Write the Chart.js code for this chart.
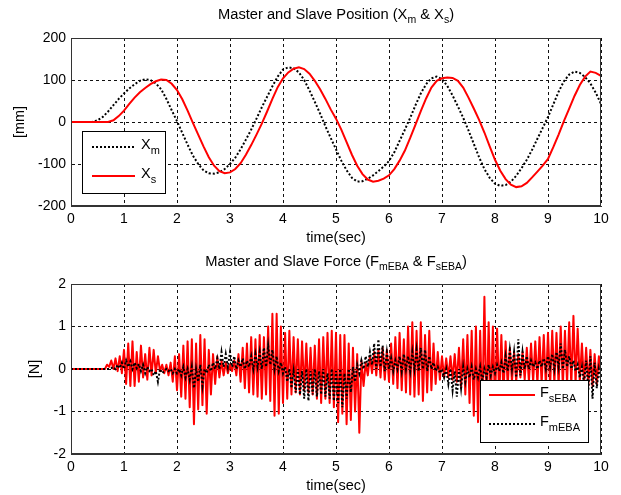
<!DOCTYPE html>
<html><head><meta charset="utf-8">
<script src="https://cdn.jsdelivr.net/npm/chart.js@4.4.1/dist/chart.umd.min.js"></script>
<style>
html,body{margin:0;padding:0;background:#fff;}
#wrap{position:relative;width:621px;height:495px;background:#fff;}
canvas{position:absolute;left:0;}
#c1{top:0;} #c2{top:250px;}
</style></head><body>
<div id="wrap"><canvas id="c1" width="621" height="250"></canvas><canvas id="c2" width="621" height="245"></canvas></div>
<script>
// ---------- data ----------
const timeTicks = [0,1,2,3,4,5,6,7,8,9,10];
const posTicks = [-200,-100,0,100,200];
const forceTicks = [-2,-1,0,1,2];
const POS_DT = 0.1;     // sampling step of position curves (s)
const FORCE_DT = 0.04;  // sampling step of force curves (s)

// Master position Xm [mm], t = 0 .. 10 s step 0.1
const xm = [0,0,0,0,0,4,12,25,40,55,
 68,80,90,98,102,100,92,78,55,28,
 2,-26,-54,-80,-100,-115,-122,-123,-120,-112,
 -100,-85,-65,-42,-18,8,35,60,85,108,
 125,130,128,118,100,75,48,20,-10,-38,
 -65,-92,-115,-133,-142,-141,-135,-127,-117,-106,
 -93,-72,-45,-18,10,40,68,90,104,108,
 102,86,63,37,10,-20,-52,-84,-112,-133,
 -147,-152,-150,-142,-128,-110,-90,-66,-40,-14,
 12,42,72,97,113,120,117,107,92,70,
 43];
// Slave position Xs [mm]
const xs = [0,0,0,0,0,0,0,0,4,14,
 27,43,58,71,81,90,97,101,100,91,
 76,54,27,-2,-30,-58,-84,-104,-117,-122,
 -120,-112,-98,-78,-55,-30,-4,25,55,83,
 104,118,127,130,126,115,98,78,55,30,
 8,-18,-48,-78,-104,-124,-137,-142,-140,-135,
 -127,-112,-92,-68,-38,-6,26,56,82,98,
 104,106,105,98,82,58,32,5,-25,-58,
 -90,-116,-136,-149,-155,-153,-145,-132,-118,-104,
 -88,-60,-30,2,32,62,88,108,120,117,
 110];

// Slave force FsEBA [N], t = 0 .. 10 s step 0.04
const fs = [
 0,0,0,0,0,0,0,0,0,0,0,0,0,0,0,0,0,0.1,0.05,0.2,0.0,0.25,-0.05,0.3,-0.1,
 0.45,-0.35,0.6,-0.4,0.65,-0.4,0.4,-0.3,0.55,-0.2,0.35,-0.25,0.5,-0.15,0.45,-0.1,0.3,-0.05,0.1,-0.1,0.1,-0.15,0.15,-0.3,0.3,
 -0.5,0.35,-0.65,0.55,-0.7,0.65,-0.9,0.7,-1.3,0.6,-0.95,0.8,-0.85,0.7,-1.05,0.45,-0.6,0.35,-0.35,0.3,-0.2,0.2,-0.15,0.15,-0.1,
 0.1,-0.05,0.2,-0.15,0.35,-0.3,0.5,-0.45,0.6,-0.55,0.75,-0.6,0.7,-0.65,0.8,-0.7,0.75,-0.6,1.0,-0.75,1.3,-1.1,1.3,-1.05,1.0,
 -0.8,0.85,-0.7,0.9,-0.6,0.75,-0.55,0.7,-0.6,0.65,-0.5,0.6,-0.55,0.5,-0.6,0.55,-0.7,0.7,-0.8,0.75,-0.7,0.85,-0.8,0.9,-0.9,
 0.85,-1.25,0.8,-1.05,0.8,-1.3,0.6,-1.2,0.5,-1.0,0.35,-1.5,0.2,-0.4,0.15,-0.15,0.3,-0.1,0.4,-0.15,0.45,-0.2,0.5,-0.25,0.45,
 -0.3,0.6,-0.35,0.75,-0.45,0.85,-0.5,0.7,-0.55,1.0,-0.6,1.1,-0.65,0.9,-0.6,1.1,-0.75,0.8,-0.55,0.9,-0.5,0.6,-0.35,0.4,-0.25,
 0.3,-0.2,0.25,-0.2,0.3,-0.25,0.35,-0.3,0.5,-0.45,0.7,-0.6,0.8,-0.8,0.9,-1.1,1.0,-1.25,0.9,-1.1,1.7,-1.2,1.1,-0.9,1.0,
 -0.8,0.95,-0.7,0.8,-0.6,0.65,-0.4,0.5,-0.3,0.4,-0.3,0.35,-0.2,0.4,-0.25,0.5,-0.3,0.6,-0.3,0.65,-0.35,0.75,-0.35,0.8,-0.4,
 0.85,-0.4,0.9,-0.35,0.85,-0.4,1.0,-0.4,0.9,-0.35,1.1,-0.4,1.25,-0.35,0.95,-0.3,0.6,-0.35,0.5,-0.4,0.45,-0.4,0.35,-0.35,0.3,
 -0.1];
// Master force FmEBA [N]
const fm = [
 0,0,0,0,0,0,0,0,0,0,0,0,0,0,0,0,0,0,0,0.02,0.05,0.0,0.1,0.02,0.15,
 0.0,0.2,0.05,0.18,0.0,0.15,0.02,0.12,-0.05,0.1,-0.1,0.05,-0.05,0.0,-0.15,-0.05,-0.3,0.0,-0.1,-0.05,0.0,-0.05,0.0,-0.1,0.0,
 -0.1,0.0,-0.15,0.05,-0.2,0.0,-0.25,0.05,-0.45,0.0,-0.3,0.1,-0.4,0.0,-0.1,0.1,-0.05,0.15,0.0,0.25,0.0,0.4,0.05,0.35,0.05,
 0.4,0.05,0.3,0.0,0.2,0.05,0.25,0.0,0.2,0.05,0.3,0.0,0.35,0.05,0.4,0.0,0.5,0.05,0.55,0.1,0.45,0.0,0.3,-0.05,0.15,
 -0.1,0.05,-0.3,0.0,-0.45,-0.05,-0.55,0.0,-0.6,-0.05,-0.7,0.0,-0.75,-0.05,-0.6,0.0,-0.65,-0.05,-0.6,0.0,-0.65,-0.1,-0.7,0.0,-0.75,
 -0.05,-0.8,0.0,-0.9,-0.1,-0.7,0.0,-0.55,0.05,-0.3,0.1,-0.1,0.2,0.0,0.3,0.05,0.4,0.1,0.6,0.0,0.7,0.05,0.55,-0.05,0.4,
 0.0,0.25,-0.05,0.2,0.0,0.3,-0.05,0.35,0.0,0.3,-0.05,0.4,0.0,0.45,-0.05,0.5,0.0,0.45,-0.05,0.3,0.0,0.15,-0.05,0.05,-0.1,
 0.0,-0.2,0.0,-0.35,0.0,-0.5,-0.05,-0.65,0.0,-0.45,0.05,-0.3,0.0,-0.2,0.05,-0.25,0.0,-0.2,0.05,-0.3,0.0,-0.2,0.1,-0.15,0.05,
 -0.1,0.1,-0.05,0.15,-0.1,0.3,-0.05,0.45,0.0,0.4,-0.2,0.7,-0.15,0.4,0.0,0.3,0.0,0.2,0.05,0.15,0.0,0.2,0.05,0.25,0.0,
 0.3,0.05,0.35,0.0,0.4,0.05,0.6,0.0,0.45,0.05,0.3,0.0,0.2,-0.05,0.1,-0.2,0.05,-0.35,0.2,-0.5,0.3,-0.7,0.15,-0.45,0.0,
 -0.25];

// text labels
const topTitle = [{t:'Master and Slave Position (X'},{t:'m',sub:true},{t:' & X'},{t:'s',sub:true},{t:')'}];
const botTitle = [{t:'Master and Slave Force (F'},{t:'mEBA',sub:true},{t:' & F'},{t:'sEBA',sub:true},{t:')'}];
const topLegend = [[{t:'X'},{t:'m',sub:true}],[{t:'X'},{t:'s',sub:true}]];
const botLegend = [[{t:'F'},{t:'sEBA',sub:true}],[{t:'F'},{t:'mEBA',sub:true}]];

// ---------- drawing ----------
const FONT = '"Liberation Sans", Arial, Helvetica, sans-serif';
const pts = (arr, dt) => arr.map((v, i) => ({x: +(i * dt).toFixed(3), y: v}));

function drawParts(ctx, parts, x, y, align, size, subSize, subDy) {
  const fm1 = size + 'px ' + FONT, fs1 = subSize + 'px ' + FONT;
  let w = 0;
  parts.forEach(p => { ctx.font = p.sub ? fs1 : fm1; w += ctx.measureText(p.t).width; });
  let cx = align === 'center' ? x - w / 2 : x;
  ctx.textAlign = 'left'; ctx.textBaseline = 'middle'; ctx.fillStyle = '#000';
  parts.forEach(p => {
    ctx.font = p.sub ? fs1 : fm1;
    ctx.fillText(p.t, cx, p.sub ? y + subDy : y);
    cx += ctx.measureText(p.t).width;
  });
}

const decor = {
  id: 'decor',
  afterDraw(chart, args, o) {
    const ctx = chart.ctx, a = chart.chartArea;
    ctx.save();
    ctx.setLineDash([]);
    ctx.strokeStyle = '#333'; ctx.lineWidth = 1;
    ctx.strokeRect(Math.round(a.left) + 0.5, Math.round(a.top) + 0.5, Math.round(a.right - a.left) - 1, Math.round(a.bottom - a.top) - 1);
    // title
    drawParts(ctx, o.title, (a.left + a.right) / 2, o.titleY, 'center', 14.7, 10.5, 5);
    // legend
    const L = o.legend;
    ctx.fillStyle = '#fff';
    ctx.fillRect(L.box[0], L.box[1], L.box[2] - L.box[0], L.box[3] - L.box[1]);
    ctx.strokeStyle = '#000'; ctx.lineWidth = 1; ctx.setLineDash([]);
    ctx.strokeRect(L.box[0] + 0.5, L.box[1] + 0.5, L.box[2] - L.box[0], L.box[3] - L.box[1]);
    L.items.forEach(it => {
      ctx.beginPath();
      ctx.strokeStyle = it.color; ctx.lineWidth = 2; ctx.setLineDash(it.dash);
      ctx.moveTo(L.sx[0], it.y); ctx.lineTo(L.sx[1], it.y); ctx.stroke();
      ctx.setLineDash([]);
      drawParts(ctx, it.parts, L.tx, it.y - 2, 'left', 14.5, 11, 6);
    });
    ctx.restore();
  }
};

function scaleX(titlePadBottom, h) {
  return {
    type: 'linear', min: 0, max: 10,
    afterFit: s => { s.height = h; },
    afterBuildTicks: s => { s.ticks = timeTicks.map(v => ({value: v})); },
    grid: {color: '#111', lineWidth: 1, drawTicks: false},
    border: {dash: [3, 3], color: '#333'},
    ticks: {padding: 5, color: '#000', maxRotation: 0, autoSkip: false, font: {family: FONT, size: 14}},
    title: {display: true, text: 'time(sec)', color: '#000', font: {family: FONT, size: 14.5}, padding: {top: 0, bottom: titlePadBottom}}
  };
}
function scaleY(min, max, ticksArr, title, titlePad) {
  return {
    min: min, max: max,
    afterFit: s => { s.width = 71; },
    afterBuildTicks: s => { s.ticks = ticksArr.map(v => ({value: v})); },
    grid: {color: '#111', lineWidth: 1, drawTicks: false},
    border: {dash: [3, 3], color: '#333'},
    ticks: {padding: 5, color: '#000', font: {family: FONT, size: 14}},
    title: {display: true, text: title, color: '#000', font: {family: FONT, size: 14.5}, padding: {top: titlePad, bottom: 0}}
  };
}

new Chart(document.getElementById('c1'), {
  type: 'line',
  data: {datasets: [
    {label: 'Xm', data: pts(xm, POS_DT), borderColor: '#000', borderWidth: 2, borderDash: [2, 2], pointRadius: 0, order: 1},
    {label: 'Xs', data: pts(xs, POS_DT), borderColor: '#ff0000', borderWidth: 2, pointRadius: 0, order: 0}
  ]},
  options: {
    responsive: false, animation: false, devicePixelRatio: 1,
    layout: {padding: {top: 38, right: 20, left: 0, bottom: 0}},
    plugins: {
      legend: {display: false}, tooltip: {enabled: false},
      decor: {title: topTitle, titleY: 15, legend: {
        box: [82, 131, 165, 193], sx: [92, 135], tx: 141,
        items: [{color: '#000', dash: [2, 2], y: 147, parts: topLegend[0]},
                {color: '#ff0000', dash: [], y: 176, parts: topLegend[1]}]}}
    },
    scales: {x: scaleX(3, 44), y: scaleY(-200, 200, posTicks, '[mm]', 11)}
  },
  plugins: [decor]
});

new Chart(document.getElementById('c2'), {
  type: 'line',
  data: {datasets: [
    {label: 'FsEBA', data: pts(fs, FORCE_DT), borderColor: '#ff0000', borderWidth: 2, borderJoinStyle: 'round', pointRadius: 0, order: 1},
    {label: 'FmEBA', data: pts(fm, FORCE_DT), borderColor: '#000', borderWidth: 2, borderDash: [2, 2], pointRadius: 0, order: 0}
  ]},
  options: {
    responsive: false, animation: false, devicePixelRatio: 1,
    layout: {padding: {top: 34, right: 20, left: 0, bottom: 0}},
    plugins: {
      legend: {display: false}, tooltip: {enabled: false},
      decor: {title: botTitle, titleY: 12, legend: {
        box: [480, 130, 588, 192], sx: [489, 535], tx: 540,
        items: [{color: '#ff0000', dash: [], y: 145, parts: botLegend[0]},
                {color: '#000', dash: [2, 2], y: 174, parts: botLegend[1]}]}}
    },
    scales: {x: scaleX(0, 41), y: scaleY(-2, 2, forceTicks, '[N]', 26)}
  },
  plugins: [decor]
});
</script>
</body></html>
